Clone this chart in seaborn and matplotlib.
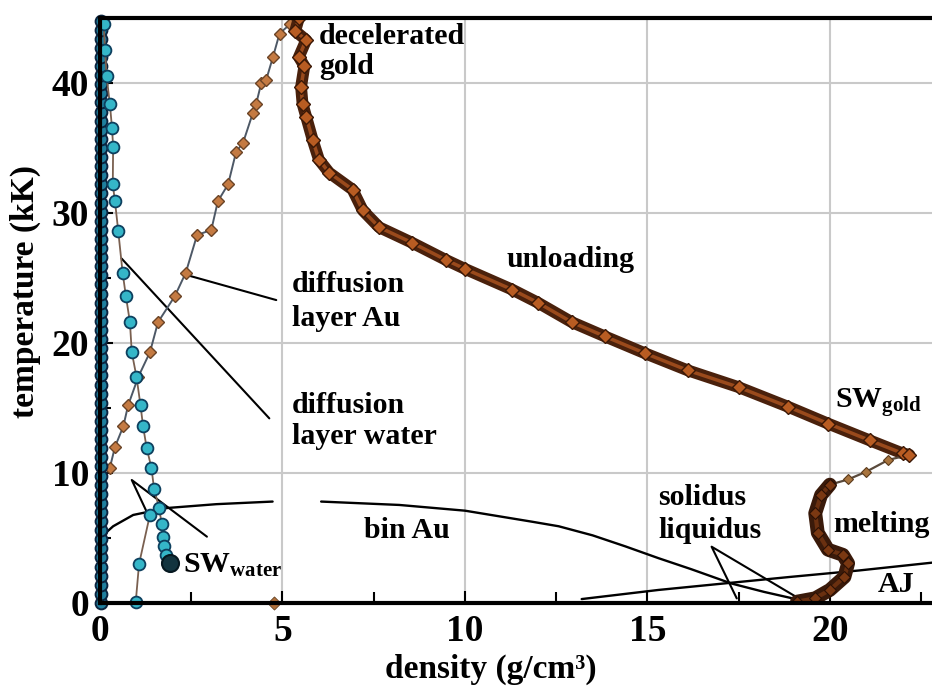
import numpy as np
import pandas as pd
import matplotlib
matplotlib.use("Agg")
import matplotlib.pyplot as plt
import seaborn as sns
from matplotlib.ticker import MultipleLocator

sns.set_theme(style="white")
plt.rcParams['font.family'] = ['Liberation Serif', 'DejaVu Serif']
plt.rcParams['font.weight'] = 'bold'
plt.rcParams['mathtext.fontset'] = 'custom'
plt.rcParams['mathtext.rm'] = 'Liberation Serif:bold'
plt.rcParams['mathtext.bf'] = 'Liberation Serif:bold'
plt.rcParams['mathtext.it'] = 'Liberation Serif:bold'

# ---------------- data (density g/cm3, temperature kK) ----------------
# water column near zero density
stack_y = [0.0, 0.7, 1.4, 2.1, 2.8, 3.5, 4.2, 4.9, 5.6, 6.3, 7.0, 7.7, 8.4, 9.1,
           9.8, 10.5, 11.2, 11.9, 12.6, 13.3, 14.0, 14.7, 15.4, 16.1, 16.8, 17.5,
           18.2, 18.9, 19.6, 20.3, 21.0, 21.7, 22.4, 23.1, 23.8, 24.5, 25.2, 25.9,
           26.6, 27.3, 28.0, 28.7, 29.4, 30.1, 30.8, 31.5, 32.2, 32.9, 33.6, 34.3,
           35.0, 35.7, 36.4, 37.1, 37.8, 38.5, 39.2, 39.9, 40.6, 41.3, 42.0, 42.7,
           43.4, 44.1, 44.8]
stack_x = [0.03] * len(stack_y)

# diffusion layer water (chain to SW water)
water_x = [0.10, 0.14, 0.18, 0.27, 0.33, 0.36, 0.35, 0.41, 0.50, 0.62, 0.71, 0.82,
           0.87, 1.00, 1.11, 1.18, 1.28, 1.41, 1.48, 1.62, 1.69, 1.73, 1.76, 1.80, 1.91]
water_y = [44.5, 42.5, 40.5, 38.4, 36.5, 35.1, 32.2, 30.9, 28.6, 25.4, 23.6, 21.6,
           19.3, 17.4, 15.2, 13.6, 11.9, 10.4, 8.8, 7.3, 6.1, 5.1, 4.4, 3.7, 3.05]
# lower water branch
water2_x = [1.37, 1.07, 0.98]
water2_y = [6.8, 3.0, 0.1]

# diffusion layer Au (ascending to peak)
au_x = [0.27, 0.41, 0.64, 0.77, 1.05, 1.37, 1.59, 2.05, 2.35, 2.66, 3.05, 3.23, 3.51,
        3.73, 3.92, 4.19, 4.28, 4.42, 4.55, 4.74, 4.92, 5.20, 5.45]
au_y = [10.4, 12.0, 13.6, 15.2, 17.4, 19.3, 21.6, 23.6, 25.4, 28.3, 28.7, 30.9, 32.2,
        34.7, 35.4, 37.7, 38.4, 40.0, 40.2, 42.0, 43.8, 44.5, 45.0]

# decelerated gold / unloading
unl_x = [5.45, 5.35, 5.65, 5.45, 5.60, 5.51, 5.55, 5.65, 5.83, 6.00, 6.28, 6.92, 7.20,
         7.65, 8.56, 9.47, 10.0, 11.3, 12.0, 12.93, 13.84, 14.94, 16.1, 17.5, 18.85,
         19.95, 21.1, 22.0, 22.18]
unl_y = [45.0, 44.0, 43.3, 42.0, 41.3, 39.7, 38.4, 37.4, 35.6, 34.1, 33.1, 31.8, 30.2,
         28.9, 27.7, 26.4, 25.7, 24.1, 23.1, 21.6, 20.5, 19.2, 17.9, 16.6, 15.1,
         13.8, 12.5, 11.5, 11.4]

# return from SW gold
ret_x = [22.18, 21.6, 21.0, 20.5, 20.0]
ret_y = [11.4, 11.0, 10.1, 9.5, 9.1]

# melting
melt_x = [20.0, 19.76, 19.6, 19.67, 19.95, 20.36, 20.5, 20.4, 20.0, 19.6, 19.1]
melt_y = [9.1, 8.3, 6.9, 5.4, 4.1, 3.7, 3.05, 2.0, 1.0, 0.36, 0.1]

# single gold point at zero temperature
au0_x = [4.78]
au0_y = [0.0]

# bin Au curve (two pieces)
bin1_x = [0.09, 0.20, 0.36, 0.91, 1.82, 3.19, 4.73]
bin1_y = [4.85, 5.5, 5.9, 6.77, 7.3, 7.6, 7.8]
bin2_x = [6.06, 8.2, 10.0, 11.84, 12.57, 13.5, 14.4, 15.3, 16.2, 17.3, 18.2, 19.3]
bin2_y = [7.8, 7.54, 7.1, 6.25, 5.9, 5.2, 4.35, 3.45, 2.6, 1.5, 0.85, 0.15]

# AJ line
aj_x = [13.2, 15.3, 17.1, 18.9, 20.8, 22.8]
aj_y = [0.3, 1.0, 1.5, 2.0, 2.5, 3.1]

# leader lines
lead_au = ([2.41, 4.83], [25.2, 23.3])
lead_water = ([0.59, 4.64], [26.5, 14.2])
lead_sw = ([1.32, 0.87, 2.93], [6.77, 9.46, 5.1])
lead_sol = ([17.45, 16.76, 19.3], [0.35, 4.33, 0.1])

x_ticks = [0, 5, 10, 15, 20]
y_ticks = [0, 10, 20, 30, 40]

# ---------------- figure ----------------
fig = plt.figure(figsize=(9.32, 6.91), dpi=100)
ax = fig.add_axes([0.1073, 0.1274, 0.8927, 0.8466])
ax.set_xlim(0, 22.8)
ax.set_ylim(0, 45)

ax.grid(True, which='major', color='#c9c9c9', lw=1.5)
ax.set_axisbelow(True)

cyan_face = '#35b6c8'
cyan_edge = '#0d3f5e'

# leader lines / curves (thin black)
for lx, ly in [lead_au, lead_water, lead_sw, lead_sol]:
    sns.lineplot(x=lx, y=ly, sort=False, estimator=None, color='black', lw=1.5, ax=ax)
for cx, cy in [(bin1_x, bin1_y), (bin2_x, bin2_y), (aj_x, aj_y)]:
    sns.lineplot(x=cx, y=cy, sort=False, estimator=None, color='black', lw=1.7, ax=ax)

# water column
sns.lineplot(x=stack_x, y=stack_y, sort=False, estimator=None, color='#0a2a48', lw=6,
             marker='o', markersize=8.5, markerfacecolor='#1f7f9e', markeredgecolor='#0a2440',
             markeredgewidth=1.4, ax=ax, clip_on=False, zorder=5)

# Au diffusion layer
sns.lineplot(x=au_x, y=au_y, sort=False, estimator=None, color='#4d5866', lw=1.4,
             marker='D', markersize=6.5, markerfacecolor='#c47a42', markeredgecolor='#6a4326',
             markeredgewidth=1.0, ax=ax, zorder=4)

# water chain
sns.lineplot(x=water_x, y=water_y, sort=False, estimator=None, color='#7a6050', lw=1.3,
             marker='o', markersize=8.5, markerfacecolor=cyan_face, markeredgecolor=cyan_edge,
             markeredgewidth=1.3, ax=ax, zorder=6)
sns.lineplot(x=water2_x, y=water2_y, sort=False, estimator=None, color='#7a6050', lw=1.3,
             marker='o', markersize=8.5, markerfacecolor=cyan_face, markeredgecolor=cyan_edge,
             markeredgewidth=1.3, ax=ax, zorder=6, clip_on=False)
sns.scatterplot(x=water_x[-1:], y=water_y[-1:], s=150, color='#12343f', edgecolor='#061820',
                linewidth=1.5, ax=ax, zorder=7)

# unloading chain
sns.lineplot(x=unl_x, y=unl_y, sort=False, estimator=None, color='#4a210c', lw=8.5,
             ax=ax, zorder=4, solid_capstyle='round')
sns.lineplot(x=unl_x, y=unl_y, sort=False, estimator=None, color='#9a4a1c', lw=2.5,
             marker='D', markersize=7.5, markerfacecolor='#b85c22', markeredgecolor='#3a1806',
             markeredgewidth=1.0, ax=ax, zorder=5)

# return and melting
sns.lineplot(x=ret_x, y=ret_y, sort=False, estimator=None, color='#5a4a3c', lw=1.6,
             marker='D', markersize=5, markerfacecolor='#a8743e', markeredgecolor='#5a3a1c',
             markeredgewidth=0.8, ax=ax, zorder=4)
sns.lineplot(x=melt_x, y=melt_y, sort=False, estimator=None, color='#3a1a0a', lw=10,
             ax=ax, zorder=4, solid_capstyle='round')
sns.lineplot(x=melt_x, y=melt_y, sort=False, estimator=None, color='#6a3010', lw=3,
             marker='D', markersize=6, markerfacecolor='#7a3812', markeredgecolor='#2a1004',
             markeredgewidth=0.8, ax=ax, zorder=5)

sns.scatterplot(x=au0_x, y=au0_y, marker='D', s=45, color='#b0703a', edgecolor='#5a3a1c',
                ax=ax, zorder=6, clip_on=False)

# ---------------- axes styling ----------------
for side in ['left', 'bottom', 'top']:
    ax.spines[side].set_visible(True)
    ax.spines[side].set_color('black')
    ax.spines[side].set_linewidth(3)
    ax.spines[side].set_zorder(8)
ax.spines['right'].set_visible(False)

ax.set_xticks(x_ticks)
ax.set_yticks(y_ticks)
ax.xaxis.set_minor_locator(MultipleLocator(2.5))
ax.yaxis.set_minor_locator(MultipleLocator(5))
ax.tick_params(which='major', direction='in', length=9, width=1.5, color='black',
               labelsize=27, pad=8, bottom=True, left=True, top=False, right=False)
ax.tick_params(which='minor', direction='in', length=8, width=1.5, color='black',
               bottom=True, left=True, top=False, right=False)
for lab in ax.get_xticklabels() + ax.get_yticklabels():
    lab.set_fontweight('bold')
    lab.set_color('black')

ax.set_xlabel('density (g/cm³)', fontsize=24, fontweight='bold', color='black')
ax.set_ylabel('temperature (kK)', fontsize=24, fontweight='bold', color='black')
ax.xaxis.set_label_coords(0.47, -0.086)
ax.yaxis.set_label_coords(-0.071, 0.533)

# ---------------- annotations ----------------
tk = dict(fontsize=21.5, fontweight='bold', color='black', ha='left', va='center', zorder=10)
ax.text(6.0, 43.6, 'decelerated', **tk)
ax.text(6.0, 41.3, 'gold', **tk)
ax.text(11.15, 26.4, 'unloading', **tk)
ax.text(5.25, 24.5, 'diffusion', **tk)
ax.text(5.25, 21.9, 'layer Au', **tk)
ax.text(5.25, 15.2, 'diffusion', **tk)
ax.text(5.25, 12.8, 'layer water', **tk)
ax.text(20.15, 15.4, r'$\mathbf{SW}_{\mathbf{gold}}$', **tk)
ax.text(15.3, 8.1, 'solidus', **tk)
ax.text(15.3, 5.6, 'liquidus', **tk)
ax.text(20.1, 6.0, 'melting', **tk)
ax.text(21.3, 1.4, 'AJ', **tk)
ax.text(7.24, 5.6, 'bin Au', **tk)
ax.text(2.27, 2.9, r'$\mathbf{SW}_{\mathbf{water}}$', **tk)

fig.savefig('out.png', dpi=100, facecolor='white')
